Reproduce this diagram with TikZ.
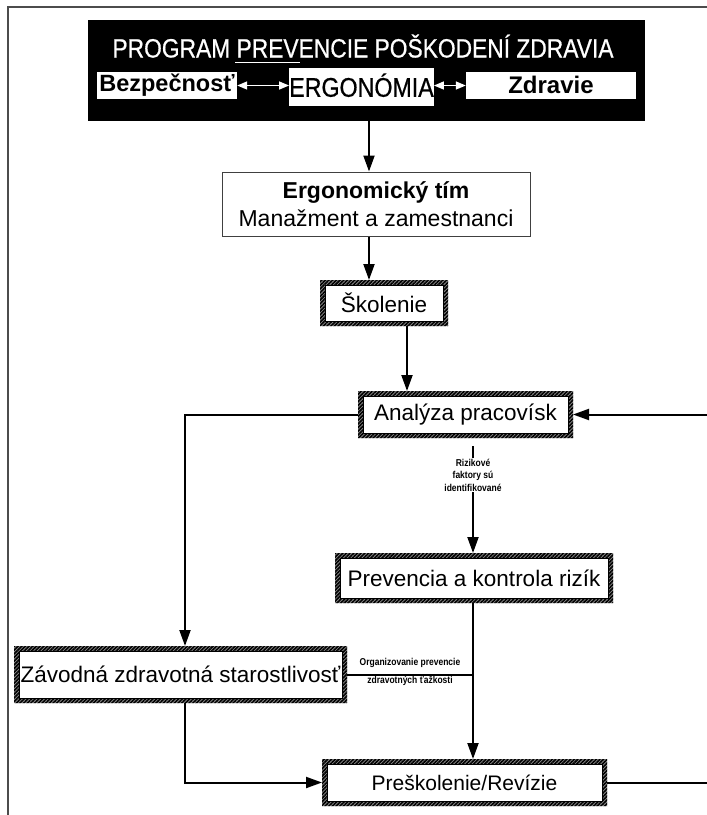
\documentclass[tikz,border=0pt]{standalone}
\usepackage{fontspec}
\setmainfont{Liberation Sans}
\newfontfamily\narrowfont[FakeStretch=0.86,FakeBold=0.6]{Liberation Sans}
\newfontfamily\smallnarrow[FakeStretch=0.85]{Liberation Sans}
\usetikzlibrary{arrows.meta,patterns.meta,calc}
\begin{document}
\begin{tikzpicture}[x=1pt,y=-1pt,
  conn/.style={line width=2pt,-{Triangle[length=16pt,width=11pt]}},
  plainline/.style={line width=2pt},
  wbox/.style={fill=white,inner sep=0pt},
  hatchbox/.style={fill=white,inner sep=0pt,outer sep=5pt,align=center,font=\fontsize{22.5}{27}\selectfont},
  whitearrow/.style={white,line width=1.5pt,{Triangle[length=10pt,width=8pt]}-{Triangle[length=10pt,width=8pt]}},
  smalllab/.style={font=\smallnarrow\bfseries\fontsize{10}{12.5}\selectfont,align=center,inner sep=1pt}
]
\useasboundingbox (0,0) rectangle (707,815);
\fill[white] (0,0) rectangle (707,815);
% outer frame
\draw[black!70,line width=2pt] (8,815) -- (8,7) -- (707,7);

% title block
\node[fill=black,minimum width=557,minimum height=101,inner sep=0pt] (prog) at (366.5,70.5) {};
\node[text=white,font=\narrowfont\fontsize{26.5}{30}\selectfont,anchor=base,inner sep=0pt] (title) at (363,57.5)
  {PROGRAM \rlap{\kern-0.05em\rule[-0.2em]{2.45em}{0.7pt}}PREVENCIE POŠKODENÍ ZDRAVIA};
\node[wbox,minimum width=140,minimum height=27,text height=17pt,text depth=5pt,font=\bfseries\fontsize{23.5}{27}\selectfont] (bez) at (167,85.5) {Bezpečnosť};
\node[wbox,minimum width=143,minimum height=38,text height=19.5pt,text depth=0pt,font=\narrowfont\fontsize{27}{30}\selectfont] (erg) at (361.5,87) {ERGONÓMIA};
\node[wbox,minimum width=170,minimum height=27,text height=17pt,text depth=1pt,font=\bfseries\fontsize{24}{27}\selectfont] (zdr) at (551,85.5) {Zdravie};
\draw[whitearrow] (bez.east) -- (bez.east -| erg.west);
\draw[whitearrow] (erg.east |- zdr.west) -- (zdr.west);

% team box
\node[draw=black!75,line width=1pt,fill=white,minimum width=308,minimum height=64,inner sep=0pt,align=center,
      font=\fontsize{23}{28}\selectfont] (team) at (376,204) {\textbf{Ergonomický tím}\\Manažment a zamestnanci};

% hatched boxes (size = inner white area)
\node[hatchbox,minimum width=118,minimum height=36] (skol) at (384,303) {Školenie};
\node[hatchbox,minimum width=205,minimum height=37] (anal) at (465.5,414.5) {Analýza pracovísk};
\node[hatchbox,minimum width=268,minimum height=40] (prev) at (474,578) {Prevencia a kontrola rizík};
\node[hatchbox,minimum width=323,minimum height=47] (zav) at (180.5,674.5) {Závodná zdravotná starostlivosť};
\node[hatchbox,minimum width=275,minimum height=37,font=\fontsize{21}{25}\selectfont] (pres) at (464.5,782.5) {Preškolenie/Revízie};

\foreach \n in {skol,anal,prev,zav,pres}{
  \fill[black!45,even odd rule]
    (\n.north west) rectangle (\n.south east)
    ([shift={(5pt,-5pt)}]\n.north west) rectangle ([shift={(-5pt,5pt)}]\n.south east);
  \path[pattern={Lines[angle=45,distance=2.6pt,line width=1.6pt]},even odd rule]
    (\n.north west) rectangle (\n.south east)
    ([shift={(5pt,-5pt)}]\n.north west) rectangle ([shift={(-5pt,5pt)}]\n.south east);
  \draw[line width=0.5pt] ([shift={(5pt,-5pt)}]\n.north west) rectangle ([shift={(-5pt,5pt)}]\n.south east);
}

% helper columns
\coordinate (xa) at (369,0);
\coordinate (xb) at (407,0);
\coordinate (xc) at (473,0);
\coordinate (xl) at (185,0);
\coordinate (re) at (712,0);

% labels
\node[smalllab] (rf) at (473,475) {Rizikové\\faktory sú\\identifikované};
\node[smalllab,anchor=south] (org1) at (410,669) {Organizovanie prevencie};
\node[smalllab,anchor=north] (org2) at (410,675) {zdravotných ťažkosti};

% connectors
\draw[conn] (prog.south -| xa) -- (team.north -| xa);
\draw[conn] (team.south -| xa) -- (skol.north -| xa);
\draw[conn] (skol.south -| xb) -- (anal.north -| xb);
\draw[conn] (pres.east) -- (pres.east -| re) |- (anal.east);
\draw[conn] (anal.west) -| (zav.north -| xl);
\draw[plainline] ($(anal.south -| xc)+(0,8)$) -- (rf.north -| xc);
\draw[conn] (rf.south -| xc) -- (prev.north -| xc);
\draw[conn] (prev.south -| xc) -- (pres.north -| xc);
\draw[plainline] (zav.east) -- (zav.east -| xc);
\draw[conn] (zav.south -| xl) |- (pres.west);
\end{tikzpicture}
\end{document}
